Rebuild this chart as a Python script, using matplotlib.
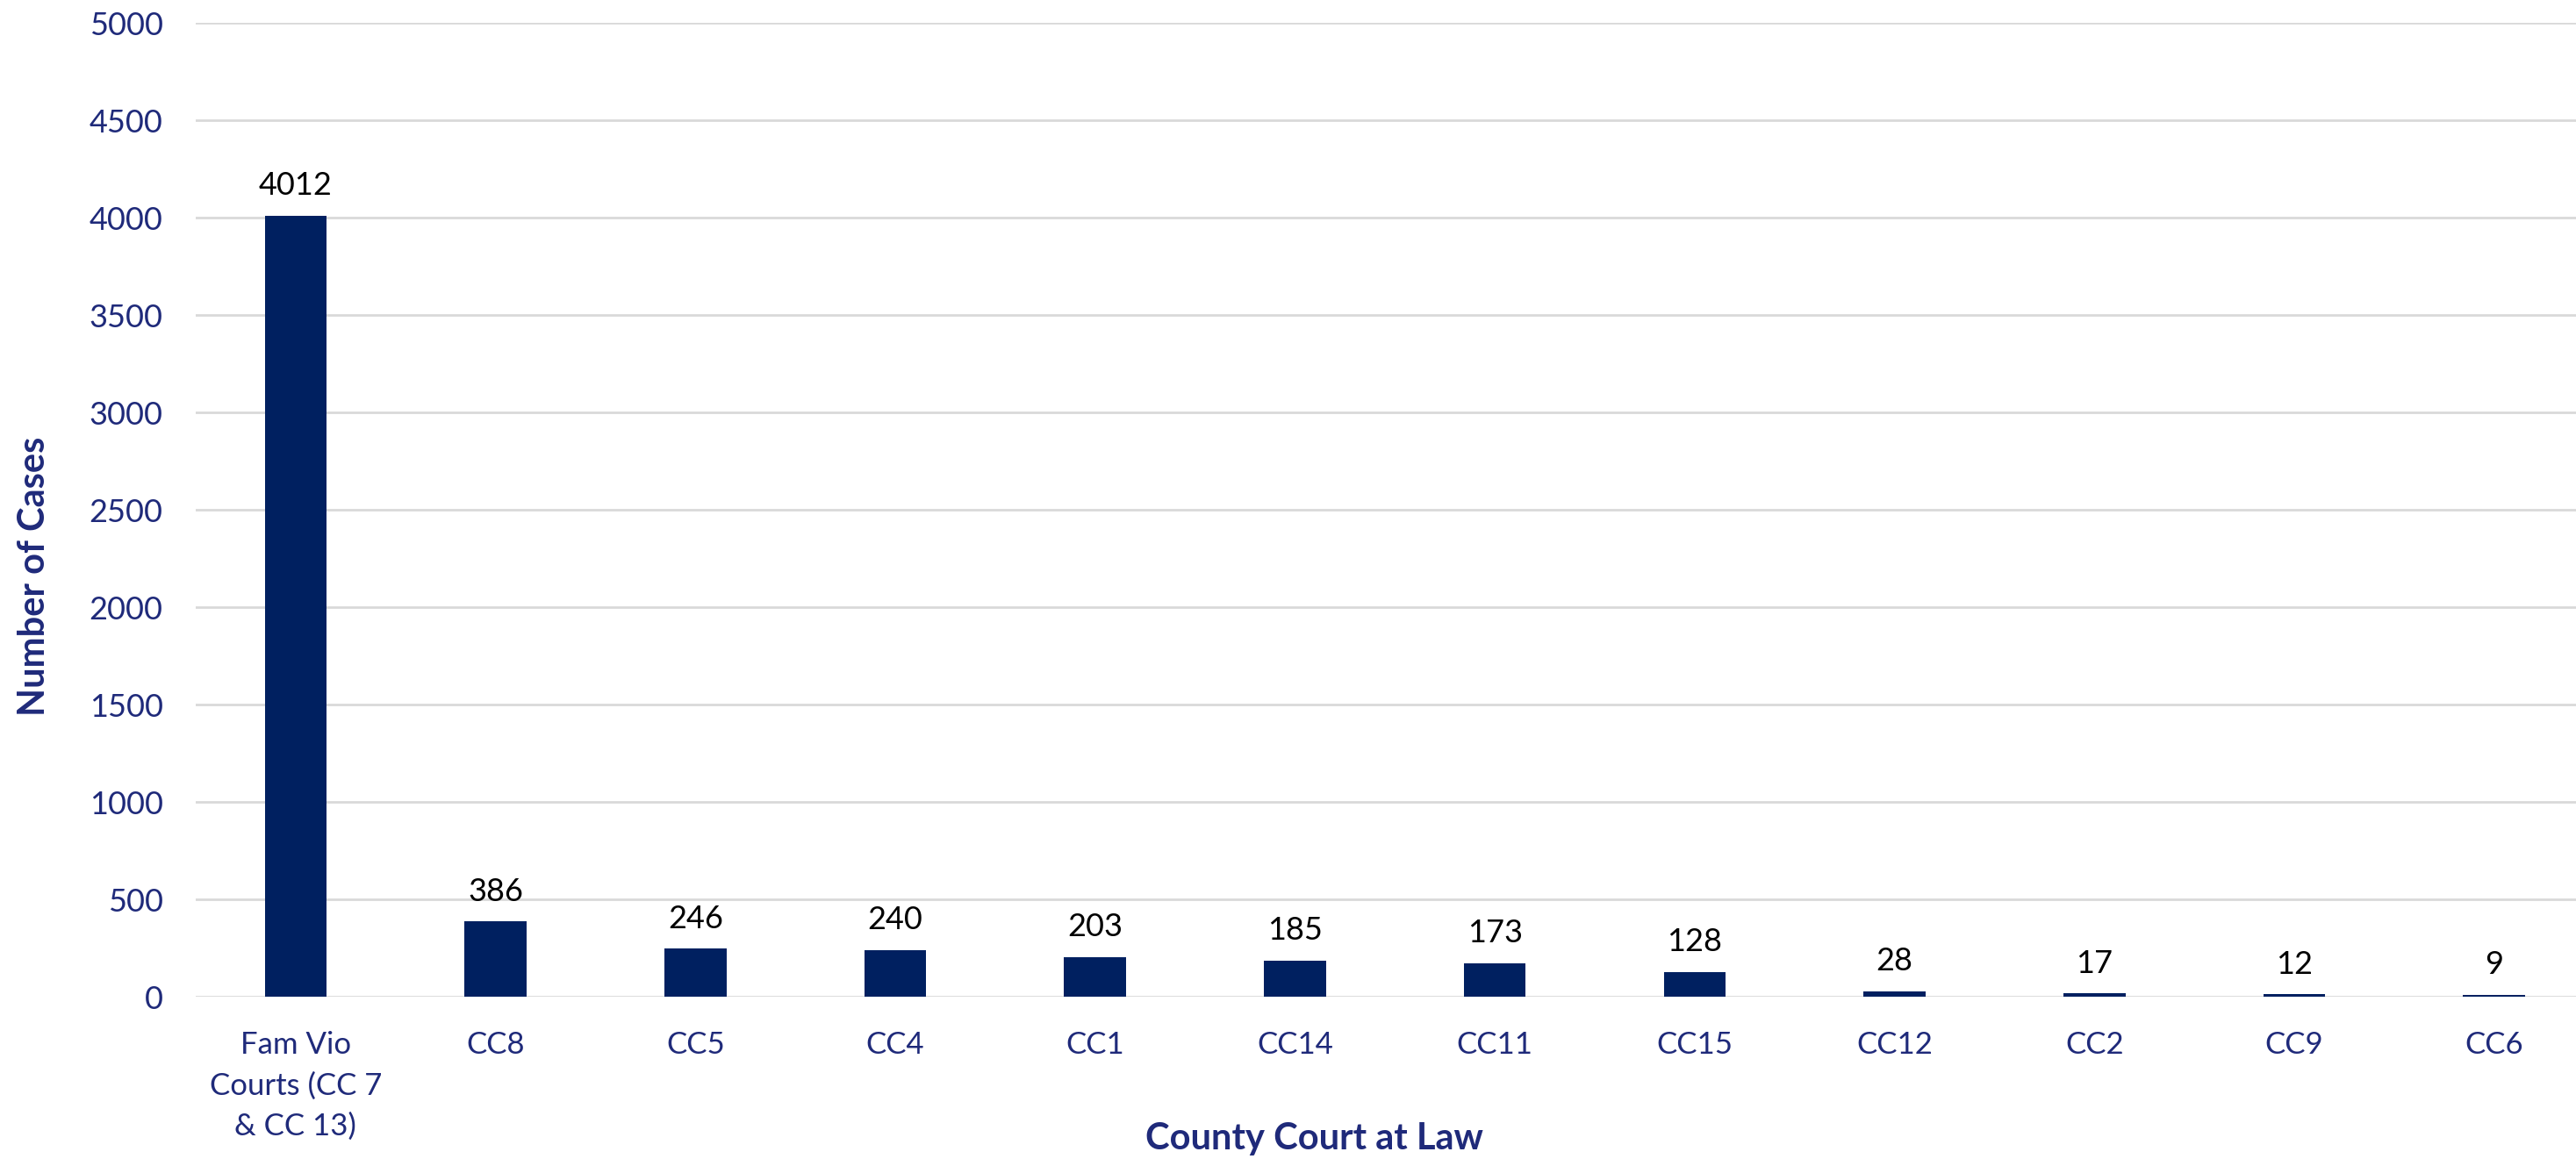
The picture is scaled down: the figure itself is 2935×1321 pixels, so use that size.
import matplotlib.pyplot as plt
import numpy as np

plt.rcParams['font.family'] = ['Lato', 'DejaVu Sans']

courts = ["Fam Vio\nCourts (CC 7\n& CC 13)", "CC8", "CC5", "CC4", "CC1", "CC14",
          "CC11", "CC15", "CC12", "CC2", "CC9", "CC6"]
cases = [4012, 386, 246, 240, 203, 185, 173, 128, 28, 17, 12, 9]

navy = "#002060"
label_blue = "#1F2A7A"

fig = plt.figure(figsize=(29.35, 13.21), dpi=100)
# plot area runs a little past the right edge of the picture, as in the original
ax = fig.add_axes([0.076, 0.140, 0.931, 0.840])

xpos = np.arange(len(courts))
ax.bar(xpos, cases, width=0.31, color=navy, zorder=3)

# value labels above each bar
for x, v in zip(xpos, cases):
    ax.annotate(str(v), (x, v), xytext=(0, 17), textcoords="offset points",
                ha="center", va="baseline", fontsize=26, color="black")

ax.set_xlim(-0.5, len(courts) - 0.5)
ax.set_ylim(0, 5000)
ax.set_yticks(np.arange(0, 5001, 500))
ax.yaxis.grid(True, color="#D9D9D9", linewidth=2, zorder=0)
ax.set_xticks(xpos)
ax.set_xticklabels(courts, fontsize=25, color=label_blue, linespacing=1.55)
ax.tick_params(axis="y", labelsize=26, labelcolor=label_blue, length=0, pad=27)
ax.tick_params(axis="x", length=0, pad=28)
for s in ax.spines.values():
    s.set_visible(False)

ax.set_ylabel("Number of Cases", fontsize=30, fontweight="bold", color=label_blue)
ax.yaxis.set_label_coords(-0.0604, 0.4315)
ax.set_xlabel("County Court at Law", fontsize=30, fontweight="bold", color=label_blue,
              va="center")
ax.xaxis.set_label_coords(0.4665, -0.146)

fig.savefig("out.png", dpi=100)
